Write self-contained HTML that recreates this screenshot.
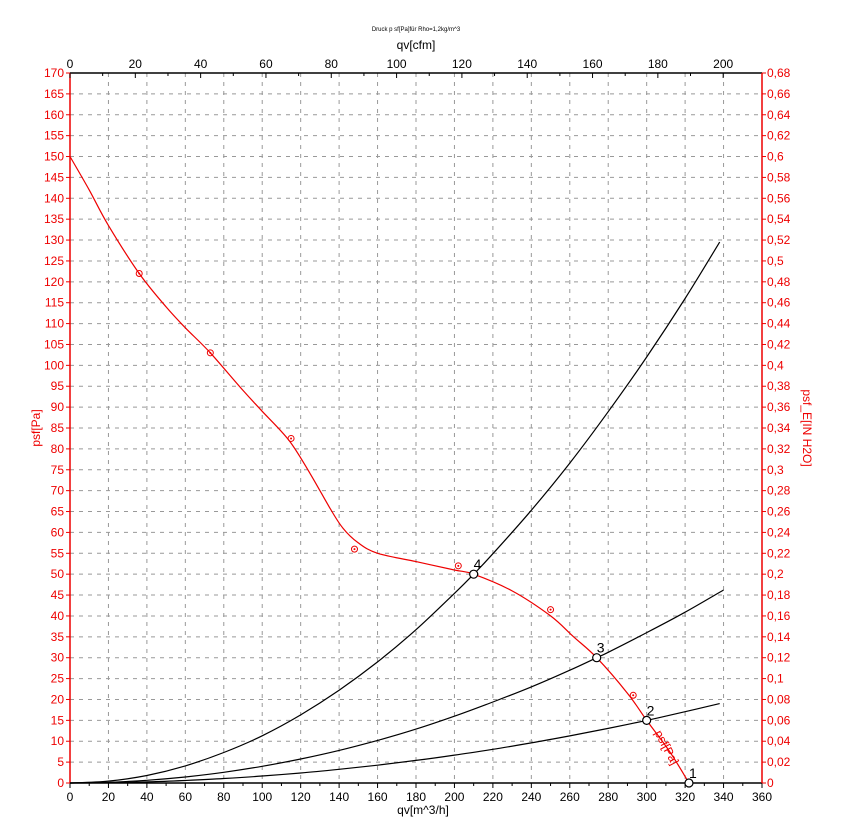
<!DOCTYPE html>
<html><head><meta charset="utf-8"><style>
html,body{margin:0;padding:0;background:#fff;}
svg{display:block;font-family:"Liberation Sans",sans-serif;}
</style></head><body>
<svg id="chart" width="846" height="824"></svg>
<script>
const xTicks=[0,20,40,60,80,100,120,140,160,180,200,220,240,260,280,300,320,340,360];
const cfmTicks=[0,20,40,60,80,100,120,140,160,180,200];
const paTicks=[0,5,10,15,20,25,30,35,40,45,50,55,60,65,70,75,80,85,90,95,100,105,110,115,120,125,130,135,140,145,150,155,160,165,170];
const inLabels=["0","0,02","0,04","0,06","0,08","0,1","0,12","0,14","0,16","0,18","0,2","0,22","0,24","0,26","0,28","0,3","0,32","0,34","0,36","0,38","0,4","0,42","0,44","0,46","0,48","0,5","0,52","0,54","0,56","0,58","0,6","0,62","0,64","0,66","0,68"];
const fanQ=[0,10,20,36,50,60,73,90,100,114,125,135,142,150,160,180,200,210,230,250,262,274,290,300,312,322];
const fanP=[150,142,133.5,122,114,109,103,94,89,82,74,66,61,57.5,55,53,51,50,46,40,35,30,21.5,15,7.5,0];
const markQ=[36,73,115,148,202,250,293];
const markP=[122,103,82.5,56,52,41.5,21];
const sysAq=[0,20,40,60,80,100,120,140,160,180,200,210,220,240,260,280,300,320,338];
const sysAp=[0,0.45,1.8,4.1,7.3,11.3,16.3,22.2,29,36.7,45.4,50,54.9,65.3,76.6,88.9,102,116,129.5];
const sysBq=[0,20,40,60,80,100,120,140,160,180,200,220,240,260,274,280,300,320,340];
const sysBp=[0,0.16,0.64,1.44,2.56,4,5.75,7.8,10.2,12.9,16,19.4,23,27,30,31.3,36,40.9,46.2];
const sysCq=[0,20,40,60,80,100,120,140,160,180,200,220,240,260,280,300,320,338];
const sysCp=[0,0.07,0.27,0.6,1.07,1.67,2.4,3.27,4.27,5.4,6.67,8.07,9.6,11.27,13.07,15,17.07,19];
const opQ=[322,300,274,210];
const opP=[0,15,30,50];
const opLabels=["1","2","3","4"];

const L=70,R=762,T=73,B=783;
const X=q=>L+q/360*(R-L);
const Y=p=>B-p/170*(B-T);
const XC=c=>X(c*1.699);
const NS="http://www.w3.org/2000/svg";
const svg=document.getElementById('chart');
function el(tag,attrs,parent){const e=document.createElementNS(NS,tag);for(const k in attrs)e.setAttribute(k,attrs[k]);(parent||svg).appendChild(e);return e;}
function txt(s,attrs){const e=el('text',attrs);e.textContent=s;return e;}

xTicks.forEach(q=>{if(q>0&&q<360){const g=el('line',{x1:X(q),x2:X(q),y1:T,y2:B,stroke:'#999','stroke-dasharray':'4,5','stroke-width':1});

}});
paTicks.forEach(p=>{if(p>0&&p<170){const g=el('line',{x1:L,x2:R,y1:Y(p),y2:Y(p),stroke:'#999','stroke-dasharray':'4,5','stroke-width':1});

}});
const fr=el('path',{d:`M${L},${T}H${R}M${L},${B}H${R}`,stroke:'#000','stroke-width':1.5,fill:'none'});


const la=el('line',{x1:L,x2:L,y1:T,y2:B,stroke:'#e00','stroke-width':1.5});


const ra=el('line',{x1:R,x2:R,y1:T,y2:B,stroke:'#e00','stroke-width':1.5});


for(let q=0;q<=360;q+=10){el('line',{x1:X(q),x2:X(q),y1:B,y2:B+(q%20?3:5),stroke:'#000'});}
xTicks.forEach(q=>{const t=txt(String(q),{x:X(q),y:B+18,'text-anchor':'middle','font-size':12});

});
const xt=txt('qv[m^3/h]',{x:423,y:814,'text-anchor':'middle','font-size':12});


for(let c=0;c<=200;c+=10){el('line',{x1:XC(c),x2:XC(c),y1:T,y2:T+(c%20?3:5),stroke:'#000'});}
cfmTicks.forEach(c=>{const t=txt(String(c),{x:XC(c),y:T-5,'text-anchor':'middle','font-size':12});

});
const tt=txt('qv[cfm]',{x:416,y:49,'text-anchor':'middle','font-size':12});


const ti=txt('Druck p sf[Pa]für Rho=1,2kg/m^3',{x:416,y:31,'text-anchor':'middle','font-size':6});


paTicks.forEach(p=>{el('line',{x1:L-4,x2:L,y1:Y(p),y2:Y(p),stroke:'#e00'});
const t=txt(String(p),{x:L-6,y:Y(p)+4,'text-anchor':'end','font-size':12,fill:'#e00'});

});
const yt=txt('psf[Pa]',{x:0,y:0,'text-anchor':'middle','font-size':12,fill:'#e00',transform:`translate(40,428) rotate(-90)`});


inLabels.forEach((s,i)=>{const y=Y(i*5);el('line',{x1:R,x2:R+4,y1:y,y2:y,stroke:'#e00'});
const t=txt(s,{x:R+5,y:y+4,'font-size':12,fill:'#e00'});

});
const rt=txt('psf_E[IN H2O]',{x:0,y:0,'text-anchor':'middle','font-size':12,fill:'#e00',transform:`translate(803,428) rotate(90)`});


function smooth(qs,ps){const pts=qs.map((q,i)=>[X(q),Y(ps[i])]);let d='M'+pts[0][0].toFixed(1)+','+pts[0][1].toFixed(1);
for(let i=0;i<pts.length-1;i++){const p0=pts[i-1]||pts[i],p1=pts[i],p2=pts[i+1],p3=pts[i+2]||p2;
const c1=[p1[0]+(p2[0]-p0[0])/6,p1[1]+(p2[1]-p0[1])/6],c2=[p2[0]-(p3[0]-p1[0])/6,p2[1]-(p3[1]-p1[1])/6];
d+='C'+c1.map(v=>v.toFixed(1))+' '+c2.map(v=>v.toFixed(1))+' '+p2.map(v=>v.toFixed(1));}return d;}
function line(qs,ps,color,name){
const e=el('path',{d:smooth(qs,ps),stroke:color,fill:'none','stroke-width':1.2});

}
line(sysAq,sysAp,'#000','system-curve-4');
line(sysBq,sysBp,'#000','system-curve-3');
line(sysCq,sysCp,'#000','system-curve-2');
line(fanQ,fanP,'#e00','fan-curve');
markQ.forEach((q,i)=>{const c=el('circle',{cx:X(q),cy:Y(markP[i]),r:3,fill:'none',stroke:'#e00','stroke-width':1});


el('circle',{cx:X(q),cy:Y(markP[i]),r:1,fill:'#e00'});});
opQ.forEach((q,i)=>{const c=el('circle',{cx:X(q),cy:Y(opP[i]),r:4,fill:'#fff',stroke:'#000','stroke-width':1.2});


const t=txt(opLabels[i],{x:X(q),y:Y(opP[i])-5,'font-size':14});

});
const cl=txt('psf[Pa]',{x:0,y:0,'font-size':12,fill:'#e00',transform:`translate(${X(304)},${Y(12)}) rotate(62)`});


</script>
</body></html>
